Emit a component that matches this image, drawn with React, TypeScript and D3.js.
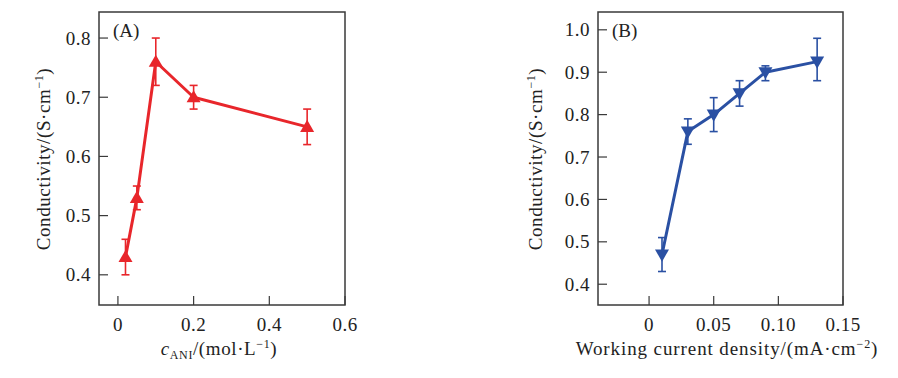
import React from "react";
import * as d3 from "d3";

const concA = [0.02, 0.05, 0.1, 0.2, 0.5];
const condA = [0.43, 0.53, 0.76, 0.7, 0.65];
const errA = [0.03, 0.02, 0.04, 0.02, 0.03];
const xTicksA = [0, 0.2, 0.4, 0.6];
const yTicksA = [0.4, 0.5, 0.6, 0.7, 0.8];

const curB = [0.01, 0.03, 0.05, 0.07, 0.09, 0.13];
const condB = [0.47, 0.76, 0.8, 0.85, 0.9, 0.925];
const errUpB = [0.04, 0.03, 0.04, 0.03, 0.015, 0.055];
const errLoB = [0.04, 0.03, 0.04, 0.03, 0.02, 0.045];
const xTicksB = [0, 0.05, 0.1, 0.15];
const xTickLabelsB = ["0", "0.05", "0.10", "0.15"];
const yTicksB = [0.4, 0.5, 0.6, 0.7, 0.8, 0.9, 1.0];

const FONT = "'Liberation Serif', 'DejaVu Serif', serif";
const AXIS = "#3a3a3a";

function Panel(props: any) {
  const { left, right, top, bottom, xDomain, yDomain, xs, ys, up, lo, xTicks, xTickLabels, yTicks, yFmt, color, down, label, xLabel, yLabelX } = props;
  const x = d3.scaleLinear().domain(xDomain).range([left, right]);
  const y = d3.scaleLinear().domain(yDomain).range([bottom, top]);
  const line = d3.line<number>().x((d, i) => x(xs[i])).y((d) => y(d));
  const sym = d3.symbol().type(d3.symbolTriangle).size(85)();
  return (
    <g fontFamily={FONT}>
      <rect x={left} y={top} width={right - left} height={bottom - top} fill="none" stroke={AXIS} strokeWidth={1.5} />
      {xTicks.map((t: number, i: number) => (
        <g key={"xt" + i}>
          <line x1={x(t)} x2={x(t)} y1={bottom} y2={bottom - 9} stroke={AXIS} strokeWidth={1.2} />
          <text x={x(t)} y={bottom + 26} textAnchor="middle" fontSize={19} letterSpacing={0.5} fill="#222">{xTickLabels ? xTickLabels[i] : String(t)}</text>
        </g>
      ))}
      {yTicks.map((t: number, i: number) => (
        <g key={"yt" + i}>
          <line x1={left} x2={left + 9} y1={y(t)} y2={y(t)} stroke={AXIS} strokeWidth={1.2} />
          <text x={left - 8} y={y(t) + 6.5} textAnchor="end" fontSize={19} letterSpacing={0.5} fill="#222">{yFmt(t)}</text>
        </g>
      ))}
      <path d={line(ys) || ""} fill="none" stroke={color} strokeWidth={3} strokeLinejoin="round" />
      {ys.map((v: number, i: number) => (
        <g key={"e" + i} stroke={color} strokeWidth={1.6}>
          <line x1={x(xs[i])} x2={x(xs[i])} y1={y(v + up[i])} y2={y(v - lo[i])} />
          <line x1={x(xs[i]) - 4} x2={x(xs[i]) + 4} y1={y(v + up[i])} y2={y(v + up[i])} />
          <line x1={x(xs[i]) - 4} x2={x(xs[i]) + 4} y1={y(v - lo[i])} y2={y(v - lo[i])} />
        </g>
      ))}
      {ys.map((v: number, i: number) => (
        <path key={"m" + i} d={sym} fill={color} transform={`translate(${x(xs[i])},${y(v) + (down ? -1 : 1)}) rotate(${down ? 180 : 0})`} />
      ))}
      <text x={left + 14} y={top + 25} fontSize={19} fill="#222">{label}</text>
      <text transform={`translate(${yLabelX},159) rotate(-90)`} textAnchor="middle" fontSize={19} letterSpacing={0.6} fill="#222">
        Conductivity/(S·cm<tspan dy={-7} fontSize={12}>−1</tspan><tspan dy={7}>)</tspan>
      </text>
      {xLabel}
    </g>
  );
}

export default function App() {
  return (
    <div style={{ position: "fixed", left: 0, top: 0 }}>
      <svg width={898} height={378} style={{ display: "block", background: "#fff" }}>
        <Panel
          left={99} right={345} top={12} bottom={305}
          xDomain={[-0.05, 0.6]} yDomain={[0.349, 0.844]}
          xs={concA} ys={condA} up={errA} lo={errA}
          xTicks={xTicksA} yTicks={yTicksA}
          xTickLabels={xTicksA.map((t) => (t === 0 ? "0" : t.toFixed(1)))}
          yFmt={(t: number) => t.toFixed(1)}
          color="#e8262b" down={false} label="(A)" yLabelX={50}
          xLabel={
            <text x={219} y={355} textAnchor="middle" fontSize={19} letterSpacing={0.6} fill="#222">
              <tspan fontStyle="italic">c</tspan><tspan fontSize={12} dy={4}>ANI</tspan><tspan dy={-4}>/(mol·L</tspan><tspan fontSize={12} dy={-7}>−1</tspan><tspan dy={7}>)</tspan>
            </text>
          }
        />
        <Panel
          left={598} right={843} top={12} bottom={305}
          xDomain={[-0.0395, 0.15]} yDomain={[0.351, 1.042]}
          xs={curB} ys={condB} up={errUpB} lo={errLoB}
          xTicks={xTicksB} xTickLabels={xTickLabelsB} yTicks={yTicksB}
          yFmt={(t: number) => t.toFixed(1)}
          color="#2a50a3" down={true} label="(B)" yLabelX={542}
          xLabel={
            <text x={727} y={355} textAnchor="middle" fontSize={19} letterSpacing={0.9} fill="#222">
              Working current density/(mA·cm<tspan fontSize={12} dy={-7}>−2</tspan><tspan dy={7}>)</tspan>
            </text>
          }
        />
      </svg>
    </div>
  );
}
